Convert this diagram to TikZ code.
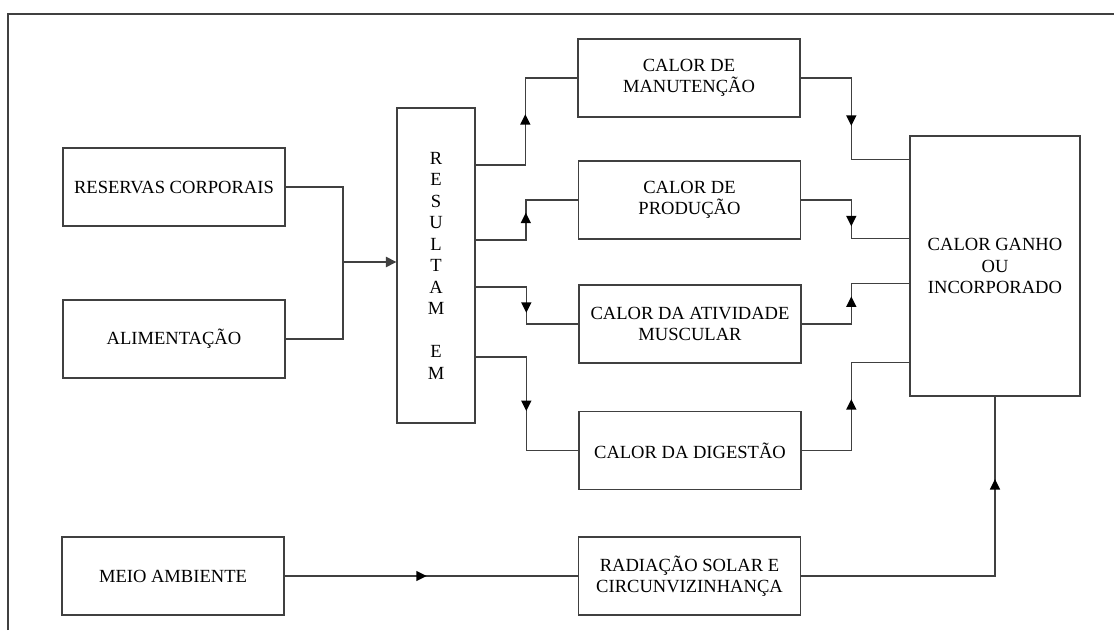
\documentclass[tikz,border=0pt]{standalone}
\usepackage{fontspec}
\setmainfont{Liberation Serif}
\usetikzlibrary{calc, arrows.meta, shapes.geometric}

\tikzset{
    box/.style={draw=black!75, line width=1pt, align=center, inner sep=2pt, minimum width=5.55cm, minimum height=1.95cm},
    tip/.style={isosceles triangle, isosceles triangle stretches, fill=black, draw=none, inner sep=0pt, minimum width=2.6mm, minimum height=2.6mm, sloped, allow upside down},
    link/.style={draw=black!75, line width=1pt}
}

\begin{document}
\begin{tikzpicture}[x=0.25cm, y=0.25cm, font=\fontsize{13.2}{15.3}\selectfont]
            \useasboundingbox (0,0) rectangle (111.4,63);
            \draw[link] (0.8,0) -- (0.8,61.6) -- (111.4,61.6);
            % sources on the left
            \node[box] (reserv) at (17.4,44.3) {RESERVAS CORPORAIS};
            \node[box] (alim) at (17.4,29.1) {ALIMENTAÇÃO};
            \node[box] (meio) at (17.3,5.4) {MEIO AMBIENTE};
            \node[box, minimum width=1.95cm, minimum height=7.875cm] (res) at (43.6,36.45) {R\\E\\S\\U\\L\\T\\A\\M\\[15.3pt]E\\M};
            % middle column
            \node[box] (man) at (68.9,55.2) {CALOR DE\\MANUTENÇÃO};
            \node[box] (prod) at (68.95,43.0) {CALOR DE\\PRODUÇÃO};
            \node[box] (ativ) at (69.0,30.6) {CALOR DA ATIVIDADE\\MUSCULAR};
            \node[box] (dig) at (69.0,17.95) {CALOR DA DIGESTÃO};
            \node[box] (rad) at (68.95,5.4) {RADIAÇÃO SOLAR E\\CIRCUNVIZINHANÇA};
            \node[box, minimum width=4.25cm, minimum height=6.5cm] (ganho) at (99.5,36.4) {CALOR GANHO\\OU\\INCORPORADO};
            % inputs
            \coordinate (jn) at (34.3,36.8);
            \draw[link] (reserv.east) -| (jn);
            \draw[link] (alim.east) -| (jn);
            \draw[link,-{Triangle[width=2.6mm,length=2.6mm]}] (jn) -- (jn -| res.west);
            \foreach \dy/\t in {10.05/man, 2.55/prod, -2.15/ativ, -9.15/dig}{
                \draw[link] ($(res.east)+(0,\dy)$) -| node[tip,pos=.75]{} ($(\t.west)+(-5.2,0)$) -- (\t.west);
            }
            \foreach \s/\dy in {man/2.4, prod/10.3, ativ/14.8, dig/22.7}{
                \draw[link] (\s.east) -| node[tip,pos=.75]{} ($(ganho.north west)+(-5.8,-\dy)$) -- ($(ganho.north west)+(0,-\dy)$);
            }
            \draw[link] (meio.east) -- node[tip,pos=.46]{} (rad.west);
            \draw[link] (rad.east) -| node[tip,pos=.75]{} (ganho.south);
        \end{tikzpicture}
\end{document}
